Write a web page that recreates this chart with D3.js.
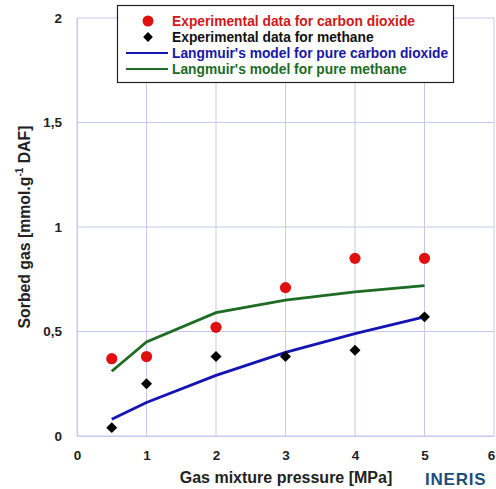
<!DOCTYPE html>
<html><head><meta charset="utf-8">
<script src="https://cdn.jsdelivr.net/npm/d3@7"></script>
<style>body{margin:0;background:#fff;}</style>
</head><body>
<svg id="c" width="496" height="489"></svg>
<script>
const pressures = [0.5, 1, 2, 3, 4, 5];
const co2Exp = [0.37, 0.38, 0.52, 0.71, 0.85, 0.85];
const ch4Exp = [0.04, 0.25, 0.38, 0.38, 0.41, 0.57];
const co2Model = [0.08, 0.16, 0.29, 0.40, 0.49, 0.57];
const ch4Model = [0.31, 0.45, 0.59, 0.65, 0.69, 0.72];
const xTicks = [0, 1, 2, 3, 4, 5, 6];
const yTicks = [0, 0.5, 1, 1.5, 2];
const legendLabels = ["Experimental data for carbon dioxide", "Experimental data for methane", "Langmuir's model for pure carbon dioxide", "Langmuir's model for pure methane"];

const svg = d3.select("#c");
const x = d3.scaleLinear().domain([0, 6]).range([77, 494]);
const y = d3.scaleLinear().domain([0, 2]).range([436, 18]);
const font = "Arial, 'Liberation Sans', sans-serif";
const gridC = "#c8c8ee";

// grid
svg.append("g").selectAll("line.v").data(xTicks).join("line")
  .attr("x1", d => x(d)).attr("x2", d => x(d)).attr("y1", y(0)).attr("y2", y(2))
  .attr("stroke", gridC).attr("stroke-width", 1);
svg.append("g").selectAll("line.h").data(yTicks).join("line")
  .attr("x1", x(0)).attr("x2", x(6)).attr("y1", d => y(d)).attr("y2", d => y(d))
  .attr("stroke", gridC).attr("stroke-width", 1);

// axes
const xAxis = svg.append("g").attr("transform", `translate(0,${y(0)})`)
  .call(d3.axisBottom(x).tickValues(xTicks).tickSize(0).tickPadding(14).tickFormat(d => d));
const yAxis = svg.append("g").attr("transform", `translate(${x(0)},0)`)
  .call(d3.axisLeft(y).tickValues(yTicks).tickSize(0).tickPadding(15).tickFormat(d => String(d).replace(".", ",")));
[xAxis, yAxis].forEach(a => {
  a.select(".domain").attr("stroke", gridC);
  a.selectAll("text").attr("font-family", font).attr("font-size", 13.5).attr("font-weight", "bold").attr("fill", "#222");
});
// keep the last x tick label inside the window
xAxis.selectAll(".tick text").filter(d => d === 6).attr("dx", -3);

// lines
const line = d3.line().x((d, i) => x(pressures[i])).y(d => y(d));
svg.append("path").datum(ch4Model).attr("d", line).attr("fill", "none").attr("stroke", "#1e6b24").attr("stroke-width", 2.8);
svg.append("path").datum(co2Model).attr("d", line).attr("fill", "none").attr("stroke", "#1414b4").attr("stroke-width", 2.8);

// points
svg.append("g").selectAll("circle").data(co2Exp).join("circle")
  .attr("cx", (d, i) => x(pressures[i])).attr("cy", d => y(d)).attr("r", 5.6).attr("fill", "#e01010");
svg.append("g").selectAll("path").data(ch4Exp).join("path")
  .attr("d", d3.symbol().type(d3.symbolSquare).size(60))
  .attr("transform", (d, i) => `translate(${x(pressures[i])},${y(d)}) rotate(45)`).attr("fill", "#000");

// legend
const lg = svg.append("g");
lg.append("rect").attr("x", 117.5).attr("y", 5.5).attr("width", 336).attr("height", 77)
  .attr("fill", "#fff").attr("stroke", "#222").attr("stroke-width", 1.2);
const legColors = ["#d01818", "#111", "#1818a8", "#1e6b24"];
const legY = [21, 37, 53, 69];
legendLabels.forEach((t, i) => {
  lg.append("text").attr("x", 172).attr("y", legY[i] + 5).text(t)
    .attr("font-family", font).attr("font-size", 13.8).attr("font-weight", "bold").attr("fill", legColors[i]);
});
lg.append("circle").attr("cx", 148).attr("cy", legY[0]).attr("r", 5.5).attr("fill", "#e01010");
lg.append("path").attr("d", d3.symbol().type(d3.symbolSquare).size(48)).attr("transform", `translate(148,${legY[1]}) rotate(45)`).attr("fill", "#000");
lg.append("line").attr("x1", 126).attr("x2", 168).attr("y1", legY[2]).attr("y2", legY[2]).attr("stroke", "#1414b4").attr("stroke-width", 2);
lg.append("line").attr("x1", 126).attr("x2", 168).attr("y1", legY[3]).attr("y2", legY[3]).attr("stroke", "#1e6b24").attr("stroke-width", 2);

// axis titles
svg.append("text").attr("x", 286).attr("y", 483).attr("text-anchor", "middle")
  .attr("font-family", font).attr("font-size", 16).attr("font-weight", "bold").attr("fill", "#222")
  .text("Gas mixture pressure [MPa]");
const yl = svg.append("text").attr("transform", "translate(30,227) rotate(-90)").attr("text-anchor", "middle")
  .attr("font-family", font).attr("font-size", 15.8).attr("font-weight", "bold").attr("fill", "#222");
yl.append("tspan").text("Sorbed gas [mmol.g");
yl.append("tspan").attr("dy", -7).attr("font-size", 10).text("-1");
yl.append("tspan").attr("dy", 7).text(" DAF]");

// logo
svg.append("text").attr("x", 425).attr("y", 485).attr("font-family", font).attr("font-size", 17)
  .attr("font-weight", "bold").attr("letter-spacing", 0.8).attr("fill", "#1d4f7a").text("INERIS");
</script>
</body></html>
